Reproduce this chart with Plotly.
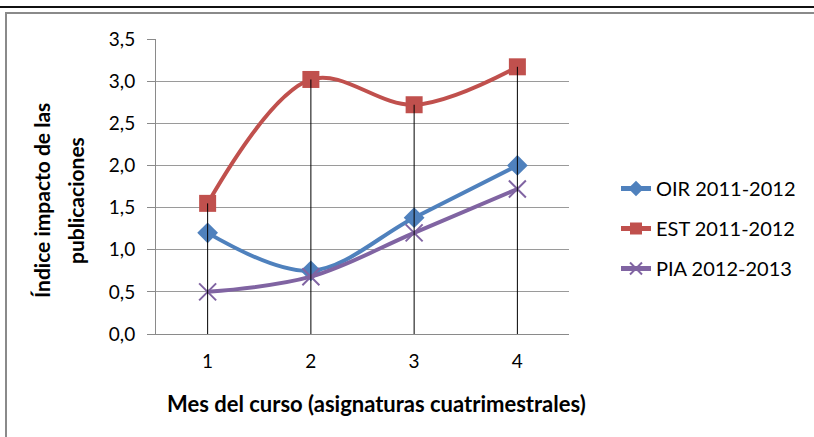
import plotly.graph_objects as go

# ---- data ----
months = [1, 2, 3, 4]
oir = [1.20, 0.75, 1.38, 2.00]
est = [1.55, 3.02, 2.72, 3.17]
pia = [0.50, 0.68, 1.20, 1.72]
names = ["OIR 2011-2012", "EST 2011-2012", "PIA 2012-2013"]
y_ticks = [0, 0.5, 1.0, 1.5, 2.0, 2.5, 3.0, 3.5]
x_title = "Mes del curso (asignaturas cuatrimestrales)"
y_title_lines = ["Índice impacto de las", "publicaciones"]

W, H = 814, 437
L, R, T, B = 156, 569, 39, 334
FONT = "Lato"

def px(x):
    return (x - L) / (R - L)

def py(y):
    return (B - y) / (B - T)

fig = go.Figure()

colors = ["#4F81BD", "#C0504D", "#8064A2"]
symbols = ["diamond", "square", "x-thin"]
sizes = [16, 17, 17]
for i, (vals, name) in enumerate(zip([oir, est, pia], names)):
    mk = dict(symbol=symbols[i], size=sizes[i], color=colors[i])
    if symbols[i] == "x-thin":
        mk["line"] = dict(width=2, color=colors[i])
    fig.add_trace(go.Scatter(
        x=months, y=vals, name=name, mode="lines+markers",
        line=dict(color=colors[i], width=4, shape="spline", smoothing=1.0),
        marker=mk, legendgroup=name,
    ))

# drop lines from axis to highest value at each month
dx, dy = [], []
for j, m in enumerate(months):
    top = max(oir[j], est[j], pia[j])
    dx += [m, m, None]
    dy += [0, top, None]
fig.add_trace(go.Scatter(x=dx, y=dy, mode="lines", line=dict(color="black", width=1),
                         showlegend=False, hoverinfo="skip"))

shapes = [
    dict(type="line", xref="paper", yref="paper", x0=px(0), x1=px(W), y0=py(7), y1=py(7),
         line=dict(color="#111111", width=2)),
    dict(type="line", xref="paper", yref="paper", x0=px(5), x1=px(W), y0=py(13), y1=py(13),
         line=dict(color="#8a8a8a", width=2)),
    dict(type="line", xref="paper", yref="paper", x0=px(6), x1=px(6), y0=py(12), y1=py(H),
         line=dict(color="#8a8a8a", width=2)),
]

annotations = [
    dict(text=x_title, xref="paper", yref="paper", x=px(376), y=py(403), showarrow=False,
         font=dict(family=FONT, size=22, color="black", weight="bold"),
         xanchor="center", yanchor="middle"),
    dict(text=y_title_lines[0], xref="paper", yref="paper", x=px(41), y=py(200), showarrow=False,
         textangle=-90, font=dict(family=FONT, size=21, color="black", weight="bold"),
         xanchor="center", yanchor="middle"),
    dict(text=y_title_lines[1], xref="paper", yref="paper", x=px(75), y=py(201), showarrow=False,
         textangle=-90, font=dict(family=FONT, size=21, color="black", weight="bold"),
         xanchor="center", yanchor="middle"),
]

fig.update_layout(
    width=W, height=H,
    margin=dict(l=L, r=W - R, t=T, b=H - B),
    paper_bgcolor="white", plot_bgcolor="white",
    separators=",.",
    font=dict(family=FONT, size=19, color="black"),
    showlegend=True,
    legend=dict(x=px(616), y=py(169), xanchor="left", yanchor="top",
                font=dict(family=FONT, size=20, color="black"),
                itemsizing="constant",
                traceorder="grouped", tracegroupgap=11, bgcolor="rgba(0,0,0,0)"),
    shapes=shapes, annotations=annotations,
)

fig.update_xaxes(range=[0.5, 4.5], tickvals=months, ticktext=[str(m) for m in months],
                 showgrid=False, showline=True, linecolor="#8a8a8a", linewidth=1,
                 ticks="", zeroline=False, ticklabelstandoff=10,
                 tickfont=dict(family=FONT, size=19, color="black"))
fig.update_yaxes(range=[0, 3.5], tickvals=y_ticks, tickformat=".1f",
                 showgrid=True, gridcolor="#9a9a9a", gridwidth=1,
                 showline=True, linecolor="#8a8a8a", linewidth=1,
                 ticks="outside", ticklen=8, tickcolor="#8a8a8a", ticklabelstandoff=8,
                 zeroline=False, tickfont=dict(family=FONT, size=19, color="black"))

fig.write_html("out.html", config={"displayModeBar": False},
               post_script="document.body.style.margin='0px';")
